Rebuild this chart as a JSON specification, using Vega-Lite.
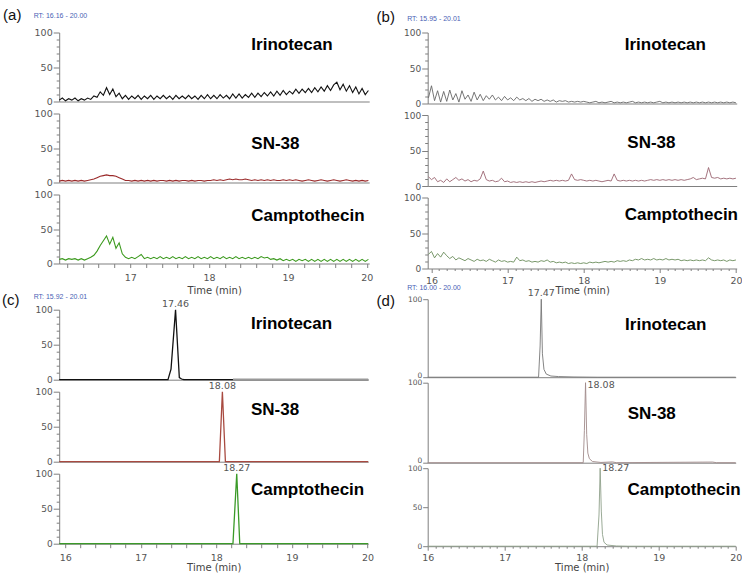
{
"$schema":"https://vega.github.io/schema/vega-lite/v6.json",
"padding":{"left":1.2,"top":7.5,"right":0,"bottom":0},
"background":"white",
"datasets":{
"A":[
{"t":16.10,"I":2,"S":2,"C":6},{"t":16.14,"I":5,"S":3,"C":7},{"t":16.18,"I":1,"S":2,"C":5},{"t":16.22,"I":4,"S":3,"C":7},{"t":16.26,"I":2,"S":2,"C":6},{"t":16.30,"I":5,"S":3,"C":7},{"t":16.34,"I":1,"S":2,"C":5},{"t":16.38,"I":4,"S":3,"C":7},{"t":16.42,"I":2,"S":2,"C":5},{"t":16.46,"I":5,"S":3,"C":7},
{"t":16.50,"I":3,"S":4,"C":9},{"t":16.54,"I":8,"S":5,"C":12},{"t":16.58,"I":6,"S":7,"C":18},{"t":16.62,"I":14,"S":9,"C":26},{"t":16.66,"I":9,"S":10,"C":33},{"t":16.70,"I":20,"S":11,"C":40},{"t":16.74,"I":10,"S":10,"C":28},{"t":16.78,"I":18,"S":10,"C":38},{"t":16.82,"I":7,"S":9,"C":22},{"t":16.86,"I":12,"S":7,"C":30},
{"t":16.90,"I":4,"S":5,"C":14},{"t":16.94,"I":9,"S":3,"C":9},{"t":16.98,"I":3,"S":3,"C":7},{"t":17.02,"I":8,"S":2,"C":9},{"t":17.06,"I":4,"S":3,"C":7},{"t":17.10,"I":9,"S":2,"C":10},{"t":17.14,"I":3,"S":3,"C":13},{"t":17.18,"I":8,"S":2,"C":7},{"t":17.22,"I":4,"S":3,"C":9},{"t":17.26,"I":9,"S":2,"C":7},
{"t":17.30,"I":3,"S":3,"C":9},{"t":17.34,"I":8,"S":2,"C":7},{"t":17.38,"I":4,"S":3,"C":10},{"t":17.42,"I":9,"S":3,"C":7},{"t":17.46,"I":4,"S":2,"C":9},{"t":17.50,"I":8,"S":3,"C":7},{"t":17.54,"I":3,"S":2,"C":10},{"t":17.58,"I":9,"S":3,"C":7},{"t":17.62,"I":4,"S":2,"C":9},{"t":17.66,"I":8,"S":3,"C":7},
{"t":17.70,"I":4,"S":3,"C":10},{"t":17.74,"I":9,"S":2,"C":7},{"t":17.78,"I":4,"S":3,"C":9},{"t":17.82,"I":8,"S":2,"C":7},{"t":17.86,"I":3,"S":3,"C":10},{"t":17.90,"I":9,"S":3,"C":7},{"t":17.94,"I":4,"S":2,"C":9},{"t":17.98,"I":10,"S":3,"C":7},{"t":18.02,"I":4,"S":3,"C":10},{"t":18.06,"I":9,"S":4,"C":7},
{"t":18.10,"I":4,"S":3,"C":9},{"t":18.14,"I":10,"S":4,"C":7},{"t":18.18,"I":5,"S":3,"C":10},{"t":18.22,"I":9,"S":4,"C":7},{"t":18.26,"I":4,"S":5,"C":9},{"t":18.30,"I":11,"S":4,"C":7},{"t":18.34,"I":5,"S":5,"C":10},{"t":18.38,"I":11,"S":4,"C":7},{"t":18.42,"I":5,"S":4,"C":9},{"t":18.46,"I":10,"S":5,"C":7},
{"t":18.50,"I":6,"S":4,"C":9},{"t":18.54,"I":12,"S":3,"C":7},{"t":18.58,"I":6,"S":4,"C":9},{"t":18.62,"I":12,"S":3,"C":7},{"t":18.66,"I":7,"S":4,"C":10},{"t":18.70,"I":13,"S":3,"C":8},{"t":18.74,"I":8,"S":4,"C":9},{"t":18.78,"I":14,"S":3,"C":6},{"t":18.82,"I":8,"S":4,"C":7},{"t":18.86,"I":15,"S":3,"C":5},
{"t":18.90,"I":9,"S":3,"C":7},{"t":18.94,"I":16,"S":4,"C":4},{"t":18.98,"I":10,"S":3,"C":6},{"t":19.02,"I":15,"S":4,"C":4},{"t":19.06,"I":11,"S":3,"C":6},{"t":19.10,"I":18,"S":4,"C":3},{"t":19.14,"I":12,"S":3,"C":6},{"t":19.18,"I":18,"S":2,"C":4},{"t":19.22,"I":13,"S":3,"C":6},{"t":19.26,"I":19,"S":4,"C":3},
{"t":19.30,"I":13,"S":3,"C":6},{"t":19.34,"I":20,"S":2,"C":3},{"t":19.38,"I":14,"S":3,"C":6},{"t":19.42,"I":21,"S":4,"C":3},{"t":19.46,"I":15,"S":3,"C":6},{"t":19.50,"I":23,"S":2,"C":3},{"t":19.54,"I":16,"S":3,"C":6},{"t":19.58,"I":24,"S":4,"C":3},{"t":19.62,"I":28,"S":3,"C":6},{"t":19.66,"I":17,"S":2,"C":3},
{"t":19.70,"I":25,"S":3,"C":6},{"t":19.74,"I":15,"S":4,"C":3},{"t":19.78,"I":23,"S":3,"C":6},{"t":19.82,"I":13,"S":2,"C":3},{"t":19.86,"I":21,"S":3,"C":6},{"t":19.90,"I":11,"S":2,"C":3},{"t":19.94,"I":19,"S":3,"C":6},{"t":19.98,"I":10,"S":2,"C":3},{"t":20.02,"I":16,"S":3,"C":6}
],
"B":[
{"t":15.96,"I":8,"S":13,"C":20},{"t":16.00,"I":25,"S":9,"C":24},{"t":16.04,"I":4,"S":12,"C":15},{"t":16.08,"I":18,"S":6,"C":21},{"t":16.12,"I":2,"S":8,"C":16},{"t":16.16,"I":17,"S":5,"C":23},{"t":16.20,"I":3,"S":10,"C":18},{"t":16.24,"I":19,"S":6,"C":14},{"t":16.28,"I":5,"S":9,"C":17},{"t":16.32,"I":14,"S":12,"C":12},
{"t":16.36,"I":2,"S":8,"C":15},{"t":16.40,"I":18,"S":10,"C":13},{"t":16.44,"I":6,"S":7,"C":11},{"t":16.48,"I":12,"S":9,"C":14},{"t":16.52,"I":3,"S":6,"C":12},{"t":16.56,"I":16,"S":8,"C":10},{"t":16.60,"I":5,"S":7,"C":13},{"t":16.64,"I":13,"S":10,"C":11},{"t":16.68,"I":4,"S":21,"C":12},{"t":16.72,"I":11,"S":9,"C":10},
{"t":16.76,"I":6,"S":7,"C":13},{"t":16.80,"I":12,"S":8,"C":11},{"t":16.84,"I":5,"S":6,"C":9},{"t":16.88,"I":9,"S":7,"C":12},{"t":16.92,"I":4,"S":11,"C":10},{"t":16.96,"I":10,"S":6,"C":11},{"t":17.00,"I":5,"S":7,"C":9},{"t":17.04,"I":8,"S":5,"C":10},{"t":17.08,"I":4,"S":6,"C":9},{"t":17.12,"I":9,"S":5,"C":16},
{"t":17.16,"I":5,"S":6,"C":11},{"t":17.20,"I":7,"S":5,"C":12},{"t":17.24,"I":4,"S":6,"C":10},{"t":17.28,"I":7,"S":5,"C":11},{"t":17.32,"I":3,"S":6,"C":9},{"t":17.36,"I":6,"S":5,"C":10},{"t":17.40,"I":4,"S":6,"C":9},{"t":17.44,"I":6,"S":7,"C":11},{"t":17.48,"I":3,"S":6,"C":10},{"t":17.52,"I":5,"S":7,"C":12},
{"t":17.56,"I":3,"S":8,"C":9},{"t":17.60,"I":5,"S":7,"C":10},{"t":17.64,"I":2,"S":8,"C":8},{"t":17.68,"I":4,"S":7,"C":9},{"t":17.72,"I":3,"S":8,"C":8},{"t":17.76,"I":4,"S":7,"C":9},{"t":17.80,"I":2,"S":8,"C":7},{"t":17.84,"I":3,"S":17,"C":8},{"t":17.88,"I":2,"S":9,"C":7},{"t":17.92,"I":3,"S":8,"C":8},
{"t":17.96,"I":2,"S":9,"C":7},{"t":18.00,"I":3,"S":8,"C":8},{"t":18.04,"I":2,"S":7,"C":7},{"t":18.08,"I":1,"S":8,"C":9},{"t":18.12,"I":2,"S":7,"C":8},{"t":18.16,"I":3,"S":8,"C":9},{"t":18.20,"I":1,"S":7,"C":8},{"t":18.24,"I":2,"S":6,"C":9},{"t":18.28,"I":1,"S":7,"C":10},{"t":18.32,"I":2,"S":8,"C":9},
{"t":18.36,"I":3,"S":7,"C":10},{"t":18.40,"I":1,"S":17,"C":9},{"t":18.44,"I":2,"S":8,"C":11},{"t":18.48,"I":1,"S":7,"C":10},{"t":18.52,"I":2,"S":8,"C":11},{"t":18.56,"I":1,"S":7,"C":10},{"t":18.60,"I":2,"S":8,"C":12},{"t":18.64,"I":3,"S":7,"C":11},{"t":18.68,"I":1,"S":8,"C":13},{"t":18.72,"I":2,"S":7,"C":12},
{"t":18.76,"I":1,"S":8,"C":14},{"t":18.80,"I":2,"S":7,"C":12},{"t":18.84,"I":1,"S":8,"C":13},{"t":18.88,"I":2,"S":9,"C":12},{"t":18.92,"I":1,"S":8,"C":14},{"t":18.96,"I":2,"S":9,"C":12},{"t":19.00,"I":3,"S":8,"C":13},{"t":19.04,"I":1,"S":9,"C":12},{"t":19.08,"I":2,"S":8,"C":14},{"t":19.12,"I":1,"S":9,"C":12},
{"t":19.16,"I":2,"S":8,"C":13},{"t":19.20,"I":1,"S":9,"C":12},{"t":19.24,"I":2,"S":8,"C":13},{"t":19.28,"I":1,"S":9,"C":11},{"t":19.32,"I":2,"S":8,"C":12},{"t":19.36,"I":1,"S":9,"C":11},{"t":19.40,"I":2,"S":10,"C":12},{"t":19.44,"I":1,"S":12,"C":11},{"t":19.48,"I":2,"S":9,"C":12},{"t":19.52,"I":1,"S":10,"C":11},
{"t":19.56,"I":2,"S":11,"C":12},{"t":19.60,"I":1,"S":10,"C":11},{"t":19.64,"I":2,"S":26,"C":15},{"t":19.68,"I":1,"S":12,"C":12},{"t":19.72,"I":2,"S":11,"C":11},{"t":19.76,"I":1,"S":12,"C":12},{"t":19.80,"I":2,"S":10,"C":11},{"t":19.84,"I":1,"S":11,"C":12},{"t":19.88,"I":2,"S":10,"C":10},{"t":19.92,"I":1,"S":11,"C":12},
{"t":19.96,"I":2,"S":10,"C":11},{"t":20.00,"I":1,"S":11,"C":12}
],
"C":[
{"s":"I","t":15.92,"v":0},{"s":"I","t":17.36,"v":0},{"s":"I","t":17.40,"v":15},{"s":"I","t":17.46,"v":100},{"s":"I","t":17.51,"v":3},{"s":"I","t":17.54,"v":1},{"s":"I","t":17.57,"v":0},{"s":"I","t":18.22,"v":0},{"s":"I","t":20.01,"v":0},
{"s":"S","t":15.92,"v":0},{"s":"S","t":18.04,"v":0},{"s":"S","t":18.08,"v":100},{"s":"S","t":18.12,"v":0},{"s":"S","t":20.01,"v":0},
{"s":"C","t":15.92,"v":0},{"s":"C","t":18.22,"v":0},{"s":"C","t":18.27,"v":100},{"s":"C","t":18.31,"v":0},{"s":"C","t":20.01,"v":0}
],
"D":[
{"s":"I","t":16,"v":0},{"s":"I","t":17.44,"v":0},{"s":"I","t":17.46,"v":40},{"s":"I","t":17.475,"v":100},{"s":"I","t":17.49,"v":30},{"s":"I","t":17.51,"v":10},{"s":"I","t":17.54,"v":4},{"s":"I","t":17.6,"v":1.5},{"s":"I","t":17.7,"v":0.8},{"s":"I","t":17.9,"v":0.3},{"s":"I","t":18.2,"v":0},{"s":"I","t":20,"v":0},
{"s":"S","t":16,"v":0},{"s":"S","t":18.02,"v":0},{"s":"S","t":18.035,"v":40},{"s":"S","t":18.05,"v":100},{"s":"S","t":18.065,"v":35},{"s":"S","t":18.08,"v":12},{"s":"S","t":18.1,"v":5},{"s":"S","t":18.14,"v":1.5},{"s":"S","t":18.25,"v":0.3},{"s":"S","t":18.4,"v":1},{"s":"S","t":18.45,"v":0},{"s":"S","t":19.7,"v":0.8},{"s":"S","t":19.75,"v":0},{"s":"S","t":20,"v":0},
{"s":"C","t":16,"v":0},{"s":"C","t":18.2,"v":0},{"s":"C","t":18.225,"v":40},{"s":"C","t":18.24,"v":100},{"s":"C","t":18.255,"v":45},{"s":"C","t":18.27,"v":15},{"s":"C","t":18.29,"v":5},{"s":"C","t":18.33,"v":1.5},{"s":"C","t":18.45,"v":0.3},{"s":"C","t":18.6,"v":0},{"s":"C","t":20,"v":0}
]
},
"spacing":1.5,
"hconcat":[
{"spacing":-2.8,"vconcat":[
 {"bounds":"flush","spacing":12,
  "title":{"text":"(a)","fontSize":15,"color":"#111","dx":-56.1,"dy":11,"offset":0},
  "vconcat":[
  {"width":310,"height":69,
   "title":{"text":"RT: 16.16 - 20.00","fontSize":7,"color":"#4a5fb5","dx":-25.5,"offset":8.3},
   "resolve":{"axis":{"x":"independent","y":"independent"}},
   "layer":[
    {"data":{"name":"A"},"mark":{"type":"line","color":"#111111","strokeWidth":1.1},
     "encoding":{"x":{"field":"t","type":"quantitative","scale":{"domain":[16.1,20.03],"nice":false,"zero":false},"axis":{"orient":"bottom","title":null,"labels":false,"ticks":false}},
      "y":{"field":"I","type":"quantitative","scale":{"domain":[0,100],"nice":false},"axis":{"orient":"left","title":null,"values":[0,50,100],"labelExpr":"''+datum.value","tickSize":6,"labelPadding":1}}}},
    {"data":{"values":[{"name":"Irinotecan"}]},"mark":{"type":"text","fontSize":17,"fontWeight":"bold","align":"left","baseline":"alphabetic","color":"#000"},
     "encoding":{"x":{"datum":18.536,"axis":null},"y":{"datum":74,"axis":{"orient":"left","title":null,"values":[10,20,30,40,60,70,80,90],"labels":false,"domain":false,"tickSize":3}},"text":{"field":"name"}}}
   ]},
  {"width":310,"height":69,
   "resolve":{"axis":{"x":"independent","y":"independent"}},
   "layer":[
    {"data":{"name":"A"},"mark":{"type":"line","color":"#9a2a2a","strokeWidth":1.1},
     "encoding":{"x":{"field":"t","type":"quantitative","scale":{"domain":[16.1,20.03],"nice":false,"zero":false},"axis":{"orient":"bottom","title":null,"labels":false,"ticks":false}},
      "y":{"field":"S","type":"quantitative","scale":{"domain":[0,100],"nice":false},"axis":{"orient":"left","title":null,"values":[0,50,100],"labelExpr":"''+datum.value","tickSize":6,"labelPadding":1}}}},
    {"data":{"values":[{"name":"SN-38"}]},"mark":{"type":"text","fontSize":17,"fontWeight":"bold","align":"left","baseline":"alphabetic","color":"#000"},
     "encoding":{"x":{"datum":18.536,"axis":null},"y":{"datum":49,"axis":{"orient":"left","title":null,"values":[10,20,30,40,60,70,80,90],"labels":false,"domain":false,"tickSize":3}},"text":{"field":"name"}}}
   ]},
  {"width":310,"height":69,
   "resolve":{"axis":{"x":"independent","y":"independent"}},
   "layer":[
    {"data":{"name":"A"},"mark":{"type":"line","color":"#3c9a1e","strokeWidth":1.1},
     "encoding":{"x":{"field":"t","type":"quantitative","scale":{"domain":[16.1,20.03],"nice":false,"zero":false},"axis":{"orient":"bottom","title":"Time (min)","values":[17,18,19,20],"labelExpr":"''+datum.value","tickSize":4,"labelPadding":5,"titlePadding":3.5}},
      "y":{"field":"C","type":"quantitative","scale":{"domain":[0,100],"nice":false},"axis":{"orient":"left","title":null,"values":[0,50,100],"labelExpr":"''+datum.value","tickSize":6,"labelPadding":1}}}},
    {"data":{"values":[{"name":"Camptothecin"}]},"mark":{"type":"text","fontSize":17,"fontWeight":"bold","align":"left","baseline":"alphabetic","color":"#000"},
     "encoding":{"x":{"datum":18.536,"axis":{"orient":"bottom","title":null,"values":[16.2,16.4,16.6,16.8,17.2,17.4,17.6,17.8,18.2,18.4,18.6,18.8,19.2,19.4,19.6,19.8],"labels":false,"domain":false,"tickSize":4}},"y":{"datum":61,"axis":{"orient":"left","title":null,"values":[10,20,30,40,60,70,80,90],"labels":false,"domain":false,"tickSize":3}},"text":{"field":"name"}}}
   ]}
 ]},
 {"bounds":"flush","spacing":12,
  "title":{"text":"(c)","fontSize":15,"color":"#111","dx":-57.1,"dy":14.7,"offset":0},
  "vconcat":[
  {"width":309,"height":70,
   "title":{"text":"RT: 15.92 - 20.01","fontSize":7,"color":"#4a5fb5","dx":-25.5,"offset":-1.4},
   "resolve":{"axis":{"x":"independent","y":"independent"}},
   "layer":[
    {"data":{"name":"C"},"transform":[{"filter":"datum.s === 'I'"}],"mark":{"type":"line","color":"#111111","strokeWidth":1.3},
     "encoding":{"x":{"field":"t","type":"quantitative","scale":{"domain":[15.92,20.01],"nice":false,"zero":false},"axis":{"orient":"bottom","title":null,"labels":false,"ticks":false}},
      "y":{"field":"v","type":"quantitative","scale":{"domain":[0,100],"nice":false},"axis":{"orient":"left","title":null,"labelFontSize":9,"values":[0,50,100],"labelExpr":"''+datum.value","tickSize":6,"labelPadding":1}}}},
    {"data":{"name":"C"},"transform":[{"filter":"datum.s === 'I' && datum.t >= 18.22"}],"mark":{"type":"line","color":"#999999","strokeWidth":2.2},
     "encoding":{"x":{"field":"t","type":"quantitative","axis":null},"y":{"field":"v","type":"quantitative","axis":null}}},
    {"data":{"values":[{"name":"17.46"}]},"mark":{"type":"text","font":"DejaVu Sans","fontSize":9.5,"align":"center","baseline":"alphabetic","dy":-3,"color":"#555"},
     "encoding":{"x":{"datum":17.46,"axis":null},"y":{"datum":100,"axis":null},"text":{"field":"name"}}},
    {"data":{"values":[{"name":"Irinotecan"}]},"mark":{"type":"text","fontSize":17,"fontWeight":"bold","align":"left","baseline":"alphabetic","color":"#000"},
     "encoding":{"x":{"datum":18.458,"axis":null},"y":{"datum":73,"axis":{"orient":"left","title":null,"values":[10,20,30,40,60,70,80,90],"labels":false,"domain":false,"tickSize":3}},"text":{"field":"name"}}}
   ]},
  {"width":309,"height":70,
   "resolve":{"axis":{"x":"independent","y":"independent"}},
   "layer":[
    {"data":{"name":"C"},"transform":[{"filter":"datum.s === 'S'"}],"mark":{"type":"line","color":"#a84a40","strokeWidth":1.3},
     "encoding":{"x":{"field":"t","type":"quantitative","scale":{"domain":[15.92,20.01],"nice":false,"zero":false},"axis":{"orient":"bottom","title":null,"labels":false,"ticks":false}},
      "y":{"field":"v","type":"quantitative","scale":{"domain":[0,100],"nice":false},"axis":{"orient":"left","title":null,"labelFontSize":9,"values":[0,50,100],"labelExpr":"''+datum.value","tickSize":6,"labelPadding":1}}}},
    {"data":{"values":[{"name":"18.08"}]},"mark":{"type":"text","font":"DejaVu Sans","fontSize":9.5,"align":"center","baseline":"alphabetic","dy":-3,"color":"#555"},
     "encoding":{"x":{"datum":18.08,"axis":null},"y":{"datum":100,"axis":null},"text":{"field":"name"}}},
    {"data":{"values":[{"name":"SN-38"}]},"mark":{"type":"text","fontSize":17,"fontWeight":"bold","align":"left","baseline":"alphabetic","color":"#000"},
     "encoding":{"x":{"datum":18.458,"axis":null},"y":{"datum":66,"axis":{"orient":"left","title":null,"values":[10,20,30,40,60,70,80,90],"labels":false,"domain":false,"tickSize":3}},"text":{"field":"name"}}}
   ]},
  {"width":309,"height":70,
   "resolve":{"axis":{"x":"independent","y":"independent"}},
   "layer":[
    {"data":{"name":"C"},"transform":[{"filter":"datum.s === 'C'"}],"mark":{"type":"line","color":"#3a9a28","strokeWidth":1.3},
     "encoding":{"x":{"field":"t","type":"quantitative","scale":{"domain":[15.92,20.01],"nice":false,"zero":false},"axis":{"orient":"bottom","title":"Time (min)","values":[16,17,18,19,20],"labelExpr":"''+datum.value","tickSize":4,"labelPadding":5,"titlePadding":0}},
      "y":{"field":"v","type":"quantitative","scale":{"domain":[0,100],"nice":false},"axis":{"orient":"left","title":null,"labelFontSize":9,"values":[0,50,100],"labelExpr":"''+datum.value","tickSize":6,"labelPadding":1}}}},
    {"data":{"values":[{"name":"18.27"}]},"mark":{"type":"text","font":"DejaVu Sans","fontSize":9.5,"align":"center","baseline":"alphabetic","dy":-3,"color":"#555"},
     "encoding":{"x":{"datum":18.27,"axis":null},"y":{"datum":100,"axis":null},"text":{"field":"name"}}},
    {"data":{"values":[{"name":"Camptothecin"}]},"mark":{"type":"text","fontSize":17,"fontWeight":"bold","align":"left","baseline":"alphabetic","color":"#000"},
     "encoding":{"x":{"datum":18.458,"axis":{"orient":"bottom","title":null,"values":[16.2,16.4,16.6,16.8,17.2,17.4,17.6,17.8,18.2,18.4,18.6,18.8,19.2,19.4,19.6,19.8],"labels":false,"domain":false,"tickSize":4}},"y":{"datum":69,"axis":{"orient":"left","title":null,"values":[10,20,30,40,60,70,80,90],"labels":false,"domain":false,"tickSize":3}},"text":{"field":"name"}}}
   ]}
 ]}
]},
{"spacing":-11.3,"vconcat":[
 {"bounds":"flush","spacing":11.5,
  "title":{"text":"(b)","fontSize":15,"color":"#111","dx":-51.1,"dy":10.15,"offset":0},
  "vconcat":[
  {"width":309,"height":71,
   "title":{"text":"RT: 15.95 - 20.01","fontSize":7,"color":"#4a5fb5","dx":-20.5,"offset":6.6},
   "resolve":{"axis":{"x":"independent","y":"independent"}},
   "layer":[
    {"data":{"name":"B"},"mark":{"type":"line","color":"#666666","strokeWidth":0.9},
     "encoding":{"x":{"field":"t","type":"quantitative","scale":{"domain":[15.95,20.01],"nice":false,"zero":false},"axis":{"orient":"bottom","title":null,"labels":false,"ticks":false}},
      "y":{"field":"I","type":"quantitative","scale":{"domain":[0,100],"nice":false},"axis":{"orient":"left","title":null,"labelFontSize":9,"values":[0,50,100],"labelExpr":"''+datum.value","tickSize":6,"labelPadding":1}}}},
    {"data":{"values":[{"name":"Irinotecan"}]},"mark":{"type":"text","fontSize":17,"fontWeight":"bold","align":"left","baseline":"alphabetic","color":"#000"},
     "encoding":{"x":{"datum":18.539,"axis":null},"y":{"datum":75,"axis":{"orient":"left","title":null,"values":[10,20,30,40,60,70,80,90],"labels":false,"domain":false,"tickSize":3}},"text":{"field":"name"}}}
   ]},
  {"width":309,"height":71,
   "resolve":{"axis":{"x":"independent","y":"independent"}},
   "layer":[
    {"data":{"name":"B"},"mark":{"type":"line","color":"#9a6470","strokeWidth":0.9},
     "encoding":{"x":{"field":"t","type":"quantitative","scale":{"domain":[15.95,20.01],"nice":false,"zero":false},"axis":{"orient":"bottom","title":null,"labels":false,"ticks":false}},
      "y":{"field":"S","type":"quantitative","scale":{"domain":[0,100],"nice":false},"axis":{"orient":"left","title":null,"labelFontSize":9,"values":[0,50,100],"labelExpr":"''+datum.value","tickSize":6,"labelPadding":1}}}},
    {"data":{"values":[{"name":"SN-38"}]},"mark":{"type":"text","fontSize":17,"fontWeight":"bold","align":"left","baseline":"alphabetic","color":"#000"},
     "encoding":{"x":{"datum":18.573,"axis":null},"y":{"datum":53,"axis":{"orient":"left","title":null,"values":[10,20,30,40,60,70,80,90],"labels":false,"domain":false,"tickSize":3}},"text":{"field":"name"}}}
   ]},
  {"width":309,"height":71,
   "resolve":{"axis":{"x":"independent","y":"independent"}},
   "layer":[
    {"data":{"name":"B"},"mark":{"type":"line","color":"#6a8c5a","strokeWidth":0.9},
     "encoding":{"x":{"field":"t","type":"quantitative","scale":{"domain":[15.95,20.01],"nice":false,"zero":false},"axis":{"orient":"bottom","title":"Time (min)","values":[16,17,18,19,20],"labelExpr":"''+datum.value","tickSize":4,"labelPadding":3,"titlePadding":0.5}},
      "y":{"field":"C","type":"quantitative","scale":{"domain":[0,100],"nice":false},"axis":{"orient":"left","title":null,"labelFontSize":9,"values":[0,50,100],"labelExpr":"''+datum.value","tickSize":6,"labelPadding":1}}}},
    {"data":{"values":[{"name":"Camptothecin"}]},"mark":{"type":"text","fontSize":17,"fontWeight":"bold","align":"left","baseline":"alphabetic","color":"#000"},
     "encoding":{"x":{"datum":18.539,"axis":{"orient":"bottom","title":null,"values":[16.1,16.2,16.3,16.4,16.5,16.6,16.7,16.8,16.9,17.1,17.2,17.3,17.4,17.5,17.6,17.7,17.8,17.9,18.1,18.2,18.3,18.4,18.5,18.6,18.7,18.8,18.9,19.1,19.2,19.3,19.4,19.5,19.6,19.7,19.8,19.9],"labels":false,"domain":false,"tickSize":2}},"y":{"datum":68,"axis":{"orient":"left","title":null,"values":[10,20,30,40,60,70,80,90],"labels":false,"domain":false,"tickSize":3}},"text":{"field":"name"}}}
   ]}
 ]},
 {"bounds":"flush","spacing":5.5,
  "title":{"text":"(d)","fontSize":15,"color":"#111","dx":-51.1,"dy":24.5,"offset":0},
  "vconcat":[
  {"width":308,"height":78,
   "title":{"text":"RT: 16.00 - 20.00","fontSize":7,"color":"#4a5fb5","dx":-20.5,"offset":-3.3},
   "layer":[
    {"data":{"name":"D"},"transform":[{"filter":"datum.s === 'I'"}],"mark":{"type":"line","color":"#777777","strokeWidth":0.9},
     "encoding":{"x":{"field":"t","type":"quantitative","scale":{"domain":[16,20],"nice":false,"zero":false},"axis":{"title":null,"labels":false,"ticks":false}},
      "y":{"field":"v","type":"quantitative","scale":{"domain":[0,100],"nice":false},"axis":{"title":null,"labelFontSize":7.5,"values":[0,50,100],"labelExpr":"''+datum.value","labelBaseline":{"condition":{"test":"datum.value === 0","value":"alphabetic"},"value":"middle"},"tickSize":5,"labelPadding":1}}}},
    {"data":{"values":[{"name":"17.47"}]},"mark":{"type":"text","font":"DejaVu Sans","fontSize":9.5,"align":"center","baseline":"alphabetic","dy":-3,"color":"#555"},
     "encoding":{"x":{"datum":17.475},"y":{"datum":100},"text":{"field":"name"}}},
    {"data":{"values":[{"name":"Irinotecan"}]},"mark":{"type":"text","fontSize":17,"fontWeight":"bold","align":"left","baseline":"alphabetic","color":"#000"},
     "encoding":{"x":{"datum":18.564},"y":{"datum":60},"text":{"field":"name"}}}
   ]},
  {"width":308,"height":80,
   "layer":[
    {"data":{"name":"D"},"transform":[{"filter":"datum.s === 'S'"}],"mark":{"type":"line","color":"#a08a8a","strokeWidth":0.9},
     "encoding":{"x":{"field":"t","type":"quantitative","scale":{"domain":[16,20],"nice":false,"zero":false},"axis":{"title":null,"labels":false,"ticks":false}},
      "y":{"field":"v","type":"quantitative","scale":{"domain":[0,100],"nice":false},"axis":{"title":null,"labelFontSize":7.5,"values":[0,50,100],"labelExpr":"''+datum.value","labelBaseline":{"condition":{"test":"datum.value === 0","value":"alphabetic"},"value":"middle"},"tickSize":5,"labelPadding":1}}}},
    {"data":{"values":[{"name":"18.08"}]},"mark":{"type":"text","font":"DejaVu Sans","fontSize":9.5,"align":"left","baseline":"alphabetic","dx":2,"dy":5,"color":"#555"},
     "encoding":{"x":{"datum":18.05},"y":{"datum":100},"text":{"field":"name"}}},
    {"data":{"values":[{"name":"SN-38"}]},"mark":{"type":"text","fontSize":17,"fontWeight":"bold","align":"left","baseline":"alphabetic","color":"#000"},
     "encoding":{"x":{"datum":18.597},"y":{"datum":55},"text":{"field":"name"}}}
   ]},
  {"width":308,"height":78,
   "resolve":{"axis":{"x":"independent","y":"independent"}},
   "layer":[
    {"data":{"name":"D"},"transform":[{"filter":"datum.s === 'C'"}],"mark":{"type":"line","color":"#8fa08a","strokeWidth":0.9},
     "encoding":{"x":{"field":"t","type":"quantitative","scale":{"domain":[16,20],"nice":false,"zero":false},"axis":{"orient":"bottom","title":"Time (min)","values":[16,17,18,19,20],"labelExpr":"''+datum.value","tickSize":4,"labelPadding":2,"titlePadding":1}},
      "y":{"field":"v","type":"quantitative","scale":{"domain":[0,100],"nice":false},"axis":{"orient":"left","title":null,"labelFontSize":7.5,"values":[0,50,100],"labelExpr":"''+datum.value","tickSize":5,"labelPadding":1}}}},
    {"data":{"values":[{"name":"18.27"}]},"mark":{"type":"text","font":"DejaVu Sans","fontSize":9.5,"align":"left","baseline":"alphabetic","dx":2,"dy":3,"color":"#555"},
     "encoding":{"x":{"datum":18.24,"axis":null},"y":{"datum":100,"axis":null},"text":{"field":"name"}}},
    {"data":{"values":[{"name":"Camptothecin"}]},"mark":{"type":"text","fontSize":17,"fontWeight":"bold","align":"left","baseline":"alphabetic","color":"#000"},
     "encoding":{"x":{"datum":18.594,"axis":{"orient":"bottom","title":null,"values":[16.1,16.2,16.3,16.4,16.5,16.6,16.7,16.8,16.9,17.1,17.2,17.3,17.4,17.5,17.6,17.7,17.8,17.9,18.1,18.2,18.3,18.4,18.5,18.6,18.7,18.8,18.9,19.1,19.2,19.3,19.4,19.5,19.6,19.7,19.8,19.9],"labels":false,"domain":false,"tickSize":2}},"y":{"datum":65,"axis":null},"text":{"field":"name"}}}
   ]}
 ]}
]}
],
"config":{
 "view":{"stroke":null},
 "axis":{"grid":false,"domainColor":"#808080","tickColor":"#808080","labelColor":"#555555","labelFont":"DejaVu Sans","labelFontSize":9.5,"titleFont":"DejaVu Sans","titleFontSize":10,"titleColor":"#444444","titleFontWeight":"normal","labelFlush":false,"labelOverlap":false},
 "title":{"font":"Liberation Sans","fontWeight":"normal","anchor":"start","frame":"group"},
 "text":{"font":"Liberation Sans"}
}
}
